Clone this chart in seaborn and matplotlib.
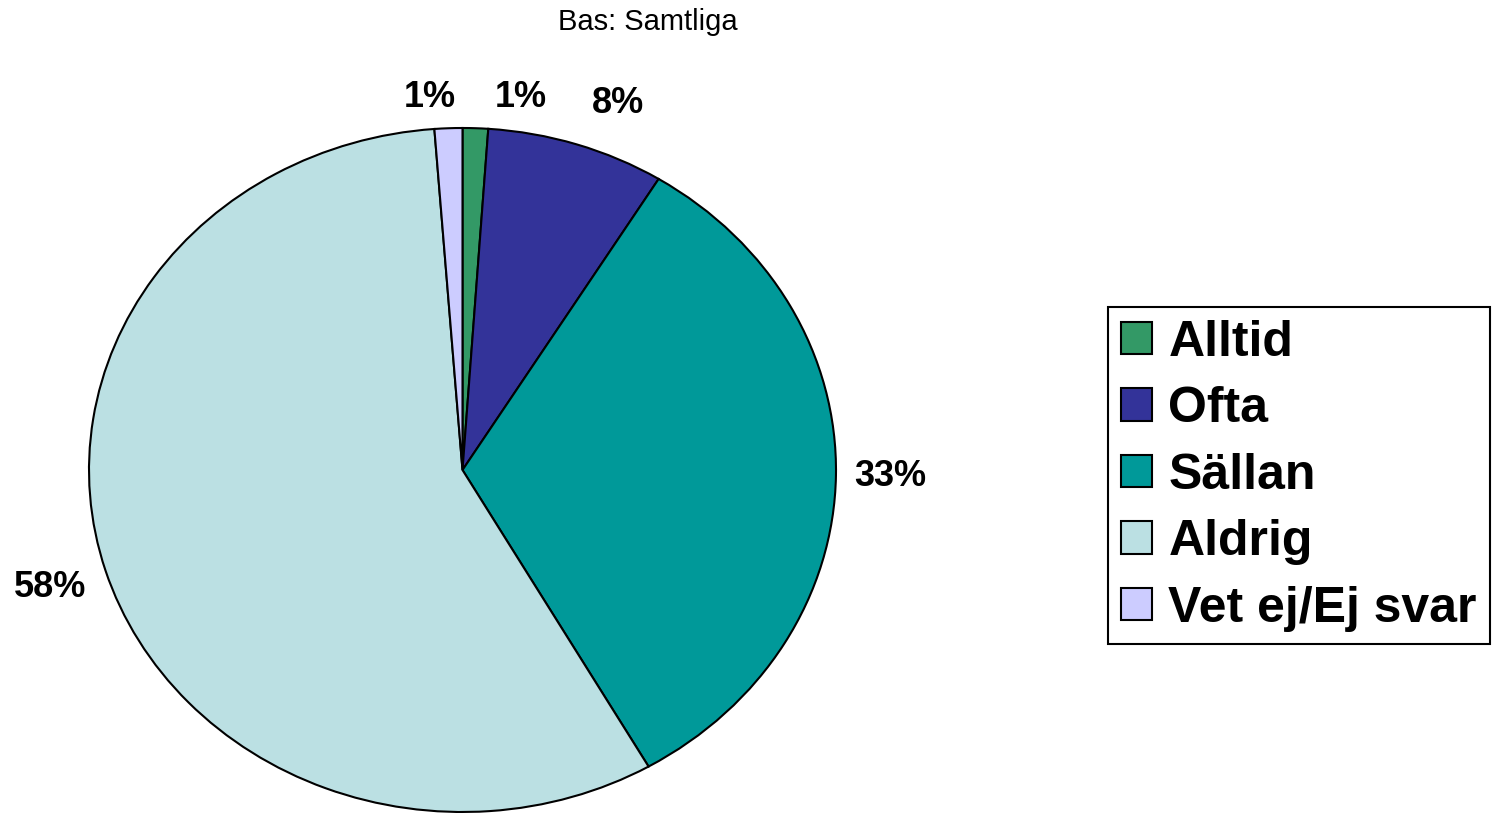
import numpy as np
import seaborn as sns
import matplotlib.pyplot as plt

categories = ['Alltid', 'Ofta', 'Sällan', 'Aldrig', 'Vet ej/Ej svar']
values = [1.1, 7.7, 32.9, 57.1, 1.2]
pct_labels = ['1%', '8%', '33%', '58%', '1%']

palette = ["#339966", "#333399", "#009999", "#BBE0E3", "#CCCCFF"]

sns.set_theme(style="white")
plt.rcParams['font.family'] = ['Liberation Sans', 'DejaVu Sans']
plt.rcParams['text.color'] = 'black'

fig = plt.figure(figsize=(15.12, 8.13), dpi=100)
ax = fig.add_axes([89 / 1512, 1 / 813, 747 / 1512, 684 / 813])

wedges, _ = ax.pie(values, colors=palette, startangle=90, counterclock=False,
                   wedgeprops=dict(edgecolor='black', linewidth=1.5))
ax.set_aspect('auto')
ax.set_xlim(-1, 1)
ax.set_ylim(-1, 1)
ax.axis('off')

# labels sit a fixed gap outside the rim; small slices get nudged apart (px)
gap = 18
nudge = {0: (44, -6), 1: (28, 0), 4: (-17, -6)}
renderer = fig.canvas.get_renderer()
for i, w in enumerate(wedges):
    mid = np.deg2rad((w.theta1 + w.theta2) / 2)
    c, s = np.cos(mid), np.sin(mid)
    ann = ax.annotate(pct_labels[i], (c, s), xytext=(0, 0),
                      textcoords='offset points', ha='center', va='center',
                      fontsize=26, fontweight='bold', annotation_clip=False)
    bb = ann.get_window_extent(renderer)
    d = gap + abs(c) * bb.width / 2 + abs(s) * bb.height / 2
    nx, ny = nudge.get(i, (0, 0))
    ann.xyann = ((c * d + nx) * 0.72, (s * d + ny) * 0.72)

fig.text(648 / 1512, 1 - 22 / 813, 'Bas: Samtliga', ha='center', va='center', fontsize=21)

leg = fig.legend(wedges, categories, loc='upper left',
                 bbox_to_anchor=(1108 / 1512, 1 - 307 / 813), borderaxespad=0,
                 prop=dict(size=36, weight='bold'), frameon=True, fancybox=False,
                 edgecolor='black', framealpha=1, handlelength=0.62, handleheight=0.62,
                 handletextpad=0.34, borderpad=0.25, labelspacing=0.41)
leg.get_frame().set_linewidth(1.5)
for h in leg.legend_handles:
    h.set_edgecolor('black')
    h.set_linewidth(1.5)

plt.savefig("out.png", dpi=100)
